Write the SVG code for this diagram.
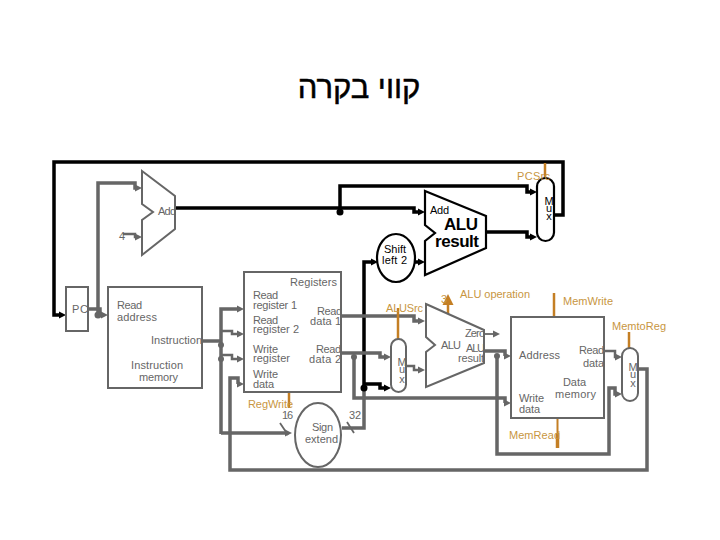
<svg xmlns="http://www.w3.org/2000/svg" width="720" height="540" viewBox="0 0 720 540">
<style>
text{font-family:"Liberation Sans",Arial,sans-serif;font-size:11px;fill:#666}
.k{fill:#000}
.o{fill:#c8963f}
.n{fill:#fff;stroke:#666;stroke-width:2}
.nk{fill:#fff;stroke:#000;stroke-width:2.2}
.g{fill:none;stroke:#666;stroke-width:3.5}
.t{fill:none;stroke:#666;stroke-width:1.8}
.b{fill:none;stroke:#000;stroke-width:3.5}
.c{fill:none;stroke:#c47f24;stroke-width:2.5}
.bt{font-size:18px;font-weight:bold;fill:#000}
</style>
<defs>
<marker id="ag" markerUnits="userSpaceOnUse" markerWidth="8" markerHeight="8" refX="1" refY="4" orient="auto"><path d="M0 0.5L7 4L0 7.5z" fill="#666"/></marker>
<marker id="ab" markerUnits="userSpaceOnUse" markerWidth="8" markerHeight="8" refX="1" refY="4" orient="auto"><path d="M0 0.5L7 4L0 7.5z" fill="#000"/></marker>
<marker id="ao" markerUnits="userSpaceOnUse" markerWidth="12" markerHeight="12" refX="1" refY="6" orient="auto"><path d="M0 0.5L11 6L0 11.5z" fill="#c47f24"/></marker>
</defs>

<text x="359" y="98" text-anchor="middle" style="font-size:31px;fill:#000;stroke:#000;stroke-width:.5">קווי בקרה</text>

<g id="connectors">
<path class="b" d="M554 215H563V162H54V315H60" marker-end="url(#ab)"/>
<path class="b" d="M175 208H414V212H419" marker-end="url(#ab)"/>
<path class="b" d="M340 212V186H527V192H531" marker-end="url(#ab)"/>
<path class="b" d="M487 232H527V237H531" marker-end="url(#ab)"/>
<path class="g" d="M342 428H364V388"/>
<path class="b" d="M364 388V262H372" marker-end="url(#ab)"/>
<path class="b" d="M364 384H380V388H385" marker-end="url(#ab)"/>
<path class="b" d="M414 262H419" marker-end="url(#ab)"/>
<circle cx="340" cy="212" r="3.500" fill="#000"/>
<circle cx="364" cy="388" r="3.500" fill="#000"/>
<path class="g" d="M98 315V183H135V188H136" marker-end="url(#ag)"/>
<path class="g" d="M88 309H100V315H102" marker-end="url(#ag)"/>
<path class="g" d="M123 234H135V237H136" style="stroke-width:2.500" marker-end="url(#ag)"/>
<path class="g" d="M202 341H221"/>
<path class="g" d="M221 434V309H238" marker-end="url(#ag)"/>
<path class="g" d="M221 331H232V334H238" style="stroke-width:2.500" marker-end="url(#ag)"/>
<path class="g" d="M221 355H232V359H238" style="stroke-width:2.500" marker-end="url(#ag)"/>
<path class="g" d="M221 433H286" marker-end="url(#ag)"/>
<circle cx="221" cy="345" r="3" fill="#666"/>
<circle cx="221" cy="359" r="3" fill="#666"/>
<circle cx="98" cy="315" r="3.500" fill="#666"/>
<path class="t" d="M280 423L288 435M347 422L354 433"/>
<path class="g" d="M341 316H414V321H419" marker-end="url(#ag)"/>
<path class="g" d="M341 353H380V357H385" marker-end="url(#ag)"/>
<path class="g" d="M354 357V398H505V403H505" marker-end="url(#ag)"/>
<circle cx="354" cy="357" r="3" fill="#666"/>
<path class="g" d="M406 366H414V370H419" style="stroke-width:2.500" marker-end="url(#ag)"/>
<path class="t" d="M484 334H494" marker-end="url(#ag)"/>
<path class="g" d="M484 351H505V356H505" marker-end="url(#ag)"/>
<circle cx="497" cy="356" r="3" fill="#666"/>
<path class="g" d="M497 356V454H609V388H615V394H616" marker-end="url(#ag)"/>
<path class="g" d="M638 369H647V470H230V378H238V384H238" marker-end="url(#ag)"/>
<path class="g" d="M604 351H615V357H616" style="stroke-width:2.500" marker-end="url(#ag)"/>
<path class="c" d="M545 163V178"/>
<path class="c" d="M398 308V339"/>
<path class="c" d="M289 392V408"/>
<path class="c" d="M554 293V317"/>
<path class="c" d="M629 332V348"/>
<path class="c" d="M557.500 418V433" style="stroke-width:2"/>
<path class="c" d="M557.500 433V448" style="stroke-width:3.500"/>
<path class="c" d="M448 315V304" marker-end="url(#ao)"/>
</g>

<g id="add-pc"><path class="n" d="M142 171L175 196V229L142 255V220L153 212L142 204Z"/><text x="158" y="215" textLength="18">Add</text><text x="119" y="240">4</text></g>
<g id="pc"><rect class="n" x="66" y="287" width="22" height="44"/><text x="72" y="313" textLength="16">PC</text></g>
<g id="instruction-memory"><rect class="n" x="108" y="287" width="94" height="101"/><text><tspan x="117" y="309" textLength="25">Read</tspan><tspan x="117" y="321" textLength="40">address</tspan></text><text x="151" y="344" textLength="51">Instruction</text><text><tspan x="131" y="369" textLength="52">Instruction</tspan><tspan x="139" y="381" textLength="39">memory</tspan></text></g>
<g id="registers"><rect class="n" x="244" y="272" width="97" height="120"/>
<text x="290" y="286" textLength="47">Registers</text>
<text><tspan x="253" y="299" textLength="25">Read</tspan><tspan x="253" y="309" textLength="44">register 1</tspan></text>
<text><tspan x="253" y="324" textLength="25">Read</tspan><tspan x="253" y="333" textLength="46">register 2</tspan></text>
<text><tspan x="253" y="353" textLength="25">Write</tspan><tspan x="253" y="362" textLength="37">register</tspan></text>
<text><tspan x="253" y="378" textLength="25">Write</tspan><tspan x="253" y="388" textLength="21">data</tspan></text>
<text><tspan x="317" y="315" textLength="25">Read</tspan><tspan x="310" y="325" textLength="31">data 1</tspan></text>
<text><tspan x="316" y="353" textLength="25">Read</tspan><tspan x="309" y="363" textLength="32">data 2</tspan></text></g>
<g id="sign-extend"><ellipse class="n" cx="318" cy="435" rx="23" ry="32"/><text><tspan x="312" y="431" textLength="21">Sign</tspan><tspan x="305" y="443" textLength="33">extend</tspan></text></g>
<g id="mux-alusrc"><rect class="n" x="391" y="339" width="15" height="53" rx="7.500"/><text text-anchor="middle"><tspan x="402" y="366">M</tspan><tspan x="402" y="373">u</tspan><tspan x="402" y="383">x</tspan></text></g>
<g id="alu"><path class="n" d="M426 304L484 330V363L426 387V352L435 345L426 337Z"/><text x="465" y="337" textLength="20">Zero</text><text x="441" y="349" textLength="20">ALU</text><text><tspan x="466" y="352" textLength="19">ALU</tspan><tspan x="458" y="362" textLength="26">result</tspan></text></g>
<g id="data-memory"><rect class="n" x="511" y="317" width="93" height="101"/><text x="519" y="359" textLength="41">Address</text><text><tspan x="579" y="354" textLength="25">Read</tspan><tspan x="583" y="367" textLength="21">data</tspan></text><text><tspan x="563" y="386" textLength="23">Data</tspan><tspan x="555" y="398" textLength="41">memory</tspan></text><text><tspan x="519" y="402" textLength="25">Write</tspan><tspan x="519" y="413" textLength="21">data</tspan></text></g>
<g id="mux-memtoreg"><rect class="n" x="622" y="348" width="16" height="53" rx="8"/><text text-anchor="middle"><tspan x="633" y="371">M</tspan><tspan x="633" y="378">u</tspan><tspan x="633" y="387">x</tspan></text></g>
<g id="shift-left"><ellipse class="nk" cx="396" cy="258" rx="19" ry="24"/><text class="k"><tspan x="384" y="253" textLength="22">Shift</tspan><tspan x="382" y="264" textLength="25">left 2</tspan></text></g>
<g id="add-branch"><path class="nk" d="M425 191L486 216V248L425 275V241L435 233L425 225Z"/><text class="k" x="430" y="214" textLength="19">Add</text><text class="bt" style="font-size:17px"><tspan x="444" y="230" textLength="34">ALU</tspan><tspan x="435" y="247" textLength="44">result</tspan></text></g>
<g id="mux-pcsrc"><rect class="nk" x="537" y="178" width="17" height="63" rx="8.500"/><text class="k" text-anchor="middle"><tspan x="549" y="205">M</tspan><tspan x="549" y="212">u</tspan><tspan x="549" y="220">x</tspan></text></g>

<g id="control-labels">
<text class="o" x="517" y="180" textLength="33">PCSrc</text>
<text class="o" x="386" y="312" textLength="37">ALUSrc</text>
<text class="o" x="248" y="408" textLength="45">RegWrite</text>
<text class="o" x="441" y="303">3</text>
<text class="o" x="460" y="298" textLength="70">ALU operation</text>
<text class="o" x="563" y="305" textLength="50">MemWrite</text>
<text class="o" x="612" y="330" textLength="54">MemtoReg</text>
<text class="o" x="509" y="439" textLength="51">MemRead</text>
<text x="282" y="419" textLength="11">16</text>
<text x="349" y="419" textLength="12">32</text>
</g>
</svg>
